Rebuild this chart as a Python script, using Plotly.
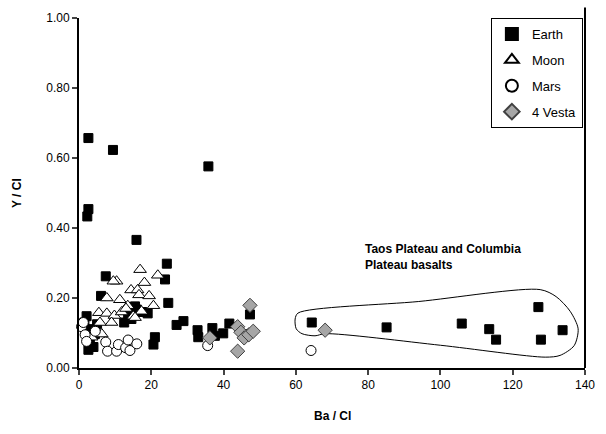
import plotly.graph_objects as go

# ---------------- data ----------------
earth_x = [2.6, 9.4, 2.6, 2.3, 35.8, 15.9, 24.3, 7.4, 23.8, 6.1, 24.7, 19.0, 16.0, 13.6, 15.5,
           12.5, 2.1, 1.5, 3.0, 2.6, 4.0, 4.4, 27.0, 28.9, 21.0, 20.6, 32.8, 33.0, 36.9, 37.6,
           39.9, 41.6, 47.3, 46.4, 64.4, 85.1, 105.9, 113.5, 127.1, 133.8, 115.4, 127.8,
           5.0, 3.0, 17.5, 14.5]
earth_y = [0.657, 0.623, 0.454, 0.433, 0.576, 0.366, 0.298, 0.262, 0.253, 0.206, 0.186, 0.156, 0.167, 0.155, 0.176,
           0.130, 0.148, 0.130, 0.111, 0.052, 0.060, 0.097, 0.123, 0.134, 0.088, 0.067, 0.108, 0.088, 0.114, 0.092,
           0.099, 0.127, 0.153, 0.097, 0.130, 0.116, 0.127, 0.111, 0.174, 0.108, 0.081, 0.081,
           0.125, 0.075, 0.160, 0.140]

moon_x = [16.9, 21.8, 10.4, 9.5, 18.1, 7.7, 14.4, 16.2, 16.6, 19.4, 11.3, 13.5, 5.5, 7.7, 9.8,
          11.8, 15.0, 17.3, 20.6, 5.8, 9.0, 3.5, 6.3, 13.0, 15.5]
moon_y = [0.281, 0.265, 0.248, 0.248, 0.244, 0.200, 0.223, 0.223, 0.209, 0.206, 0.195, 0.178, 0.158, 0.156, 0.150,
          0.160, 0.148, 0.162, 0.178, 0.130, 0.130, 0.088, 0.097, 0.170, 0.144]

mars_x = [0.7, 1.7, 2.1, 7.4, 7.9, 10.4, 10.9, 12.9, 13.6, 14.1, 16.0, 35.6, 64.2, 1.2, 4.5]
mars_y = [0.118, 0.095, 0.076, 0.074, 0.048, 0.048, 0.067, 0.058, 0.080, 0.050, 0.069, 0.064, 0.050, 0.130, 0.105]

vesta_x = [47.3, 43.9, 44.8, 45.7, 47.0, 48.2, 43.9, 36.2, 68.1]
vesta_y = [0.179, 0.118, 0.102, 0.086, 0.095, 0.105, 0.048, 0.086, 0.108]

# outline around the Taos / Columbia Plateau basalts
outline_x = [60.6, 94.0, 127.6, 132.0, 135.9, 138.1, 137.0, 133.1, 129.0, 100.0, 68.1, 65.3, 61.7, 60.1, 59.8, 60.6]
outline_y = [0.157, 0.190, 0.224, 0.204, 0.162, 0.112, 0.064, 0.036, 0.031, 0.065, 0.098, 0.092, 0.098, 0.112, 0.140, 0.157]

x_ticks = [0, 20, 40, 60, 80, 100, 120, 140]
y_ticks = [0.0, 0.2, 0.4, 0.6, 0.8, 1.0]

FONT = "Liberation Sans, Arial, sans-serif"

fig = go.Figure()

fig.add_trace(go.Scatter(x=outline_x, y=outline_y, mode="lines",
                         line=dict(color="black", width=1, shape="spline", smoothing=0.8),
                         showlegend=False, hoverinfo="skip"))

fig.add_trace(go.Scatter(x=earth_x, y=earth_y, mode="markers", name="Earth", legendgroup="a",
                         marker=dict(symbol="square", size=9, color="black",
                                     line=dict(color="black", width=1)), cliponaxis=False))
fig.add_trace(go.Scatter(x=moon_x, y=moon_y, mode="markers", name="Moon", legendgroup="b",
                         marker=dict(symbol="triangle-up", size=11, color="white",
                                     line=dict(color="black", width=1)), cliponaxis=False))
fig.add_trace(go.Scatter(x=mars_x, y=mars_y, mode="markers", name="Mars", legendgroup="c",
                         marker=dict(symbol="circle", size=10, color="white",
                                     line=dict(color="black", width=1)), cliponaxis=False))
fig.add_trace(go.Scatter(x=vesta_x, y=vesta_y, mode="markers", name="4 Vesta", legendgroup="d",
                         marker=dict(symbol="diamond", size=11, color="#a6a6a6",
                                     line=dict(color="#404040", width=1)), cliponaxis=False))

fig.update_layout(
    width=606, height=434,
    margin=dict(l=79, r=21, t=11, b=66),
    paper_bgcolor="white", plot_bgcolor="white",
    font=dict(family=FONT, size=12, color="black"),
    showlegend=True,
    legend=dict(x=0.814, y=1.0, xanchor="left", yanchor="top",
                bgcolor="white", bordercolor="black", borderwidth=1,
                font=dict(family=FONT, size=13), tracegroupgap=6,
                itemsizing="constant"),
    xaxis=dict(range=[0, 140], tickvals=x_ticks, ticks="outside", ticklen=5, tickwidth=2,
               showline=True, linecolor="black", linewidth=2, showgrid=False, zeroline=False,
               tickfont=dict(size=12)),
    yaxis=dict(range=[0, 1], tickvals=y_ticks, tickformat=".2f", ticks="outside", ticklen=5, tickwidth=2,
               showline=True, linecolor="black", linewidth=2, showgrid=False, zeroline=False,
               tickfont=dict(size=12)),
)

# right frame line
fig.add_shape(type="line", xref="paper", yref="paper", x0=1, x1=1, y0=0, y1=1.03,
              line=dict(color="black", width=2))

fig.add_annotation(text="<b>Taos Plateau and Columbia<br>Plateau basalts</b>", x=78.6, y=0.318,
                   xref="x", yref="y", xanchor="left", yanchor="middle", showarrow=False,
                   align="left", font=dict(size=12))
fig.add_annotation(text="<b>Ba / Cl</b>", x=0.5, y=-0.137, xref="paper", yref="paper",
                   xanchor="center", yanchor="middle", showarrow=False, font=dict(size=12))
fig.add_annotation(text="<b>Y / Cl</b>", x=-0.1225, y=0.5, xref="paper", yref="paper",
                   xanchor="center", yanchor="middle", showarrow=False, textangle=-90,
                   font=dict(size=12))

fig.write_html("out.html", config={"displayModeBar": False},
               post_script="document.body.style.margin='0';document.body.style.overflow='hidden';")
